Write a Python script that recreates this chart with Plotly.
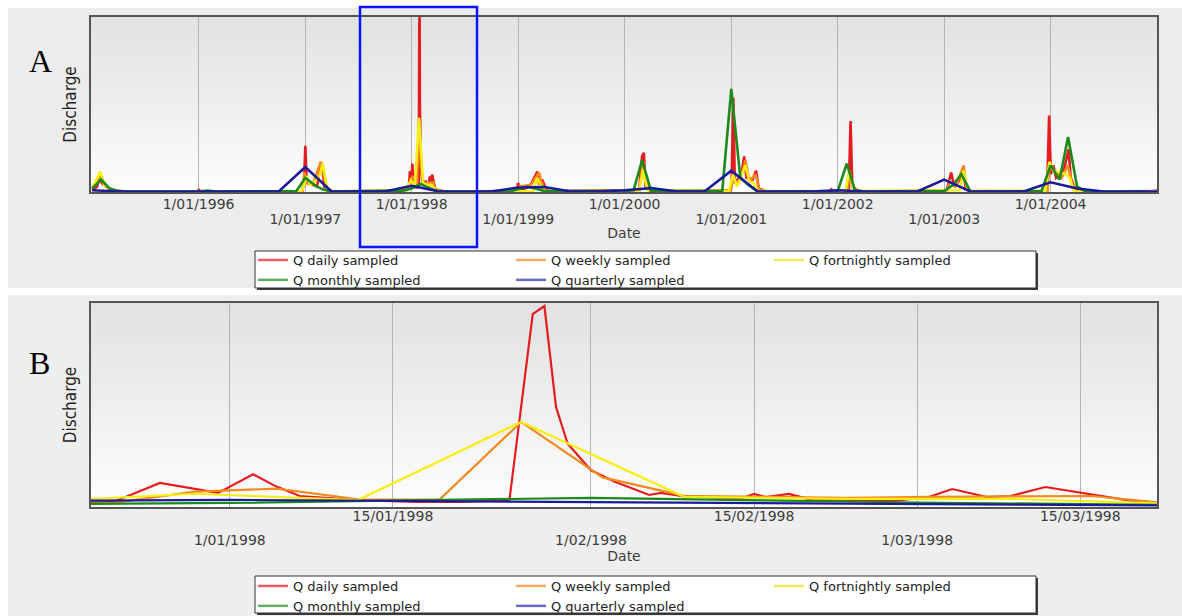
import plotly.graph_objects as go

# ---------------------------------------------------------------- data
daily_dates = [
    "1995-01-01", "1995-01-18", "1995-01-27", "1995-02-03", "1995-02-18", "1995-03-15", "1995-05-01",
    "1995-12-26", "1996-01-02", "1996-01-08", "1996-11-01",
    "1996-12-22", "1996-12-28", "1997-01-01", "1997-01-05", "1997-01-15", "1997-02-10", "1997-02-24",
    "1997-03-01", "1997-03-07", "1997-04-01", "1997-10-01", "1997-12-01",
    "1997-12-20", "1997-12-22", "1997-12-26", "1997-12-31", "1998-01-03", "1998-01-05", "1998-01-07",
    "1998-01-12", "1998-01-17", "1998-01-21", "1998-01-25", "1998-01-27", "1998-01-28", "1998-01-29",
    "1998-01-30", "1998-02-01", "1998-02-03", "1998-02-05", "1998-02-06", "1998-02-07", "1998-02-09",
    "1998-02-14", "1998-02-15", "1998-02-16", "1998-02-18", "1998-02-20", "1998-02-27", "1998-03-02",
    "1998-03-04", "1998-03-07", "1998-03-09", "1998-03-12", "1998-03-15", "1998-03-19", "1998-03-22",
    "1998-04-05", "1998-05-01",
    "1998-12-26", "1999-01-01", "1999-01-06", "1999-02-10", "1999-03-08", "1999-03-14", "1999-03-24",
    "1999-04-10",
    "2000-02-20", "2000-03-01", "2000-03-07", "2000-03-13", "2000-04-01",
    "2000-12-28", "2001-01-02", "2001-01-08", "2001-01-13", "2001-02-05", "2001-02-14", "2001-02-22",
    "2001-03-15", "2001-03-27", "2001-04-05", "2001-04-30",
    "2001-12-05", "2001-12-10", "2001-12-20", "2002-02-08", "2002-02-14", "2002-02-20", "2002-03-10",
    "2002-04-01",
    "2003-01-10", "2003-01-25", "2003-02-05", "2003-03-01", "2003-03-08", "2003-03-15", "2003-04-01",
    "2003-12-20", "2003-12-27", "2004-01-02", "2004-01-10", "2004-01-20", "2004-02-15", "2004-03-03",
    "2004-03-10", "2004-03-25", "2004-04-15",
    "2004-12-20", "2004-12-31",
]
daily_q = [
    1.0, 3.0, 10.0, 5.0, 3.0, 1.0, 0.2,
    0.2, 1.2, 0.2, 0.2,
    0.5, 6.0, 26.0, 8.0, 5.0, 3.0, 16.0,
    14.0, 3.0, 0.5, 0.3, 1.0,
    2.0, 2.5, 11.8, 6.9, 16.0, 10.0, 5.4,
    3.4, 2.5, 2.5, 3.4, 94.6, 98.5, 49.0,
    31.0, 18.0, 12.5, 8.3, 5.9, 6.9, 5.2,
    4.4, 6.4, 4.9, 6.4, 3.4, 3.0, 4.9,
    8.8, 4.9, 5.4, 9.8, 6.9, 3.4, 2.0,
    0.8, 0.3,
    0.5, 5.0, 1.0, 3.0, 11.5, 4.0, 7.0,
    0.5,
    1.0, 20.0, 22.0, 3.0, 0.5,
    1.0, 4.0, 53.0, 5.0, 10.0, 20.0, 8.0,
    7.0, 12.0, 2.0, 0.3,
    0.3, 1.5, 0.3, 1.0, 40.0, 3.0, 1.0,
    0.2,
    1.0, 11.0, 3.0, 8.0, 14.0, 3.0, 0.3,
    0.5, 43.0, 10.0, 15.0, 8.0, 12.0, 24.0,
    8.0, 2.0, 0.3,
    0.2, 0.6,
]

weekly_dates = [
    "1995-01-01", "1995-01-29", "1995-02-12", "1995-03-05", "1995-04-02",
    "1996-12-22", "1996-12-29", "1997-01-05", "1997-01-26", "1997-02-23", "1997-03-02", "1997-03-16",
    "1997-04-06",
    "1997-12-15", "1997-12-22", "1997-12-29", "1998-01-05", "1998-01-12", "1998-01-19", "1998-01-26",
    "1998-02-02", "1998-02-09", "1998-02-16", "1998-02-23", "1998-03-02", "1998-03-09", "1998-03-16",
    "1998-03-23", "1998-04-20",
    "1998-12-27", "1999-01-03", "1999-02-14", "1999-03-14", "1999-03-21", "1999-04-04", "1999-04-25",
    "2000-02-20", "2000-03-05", "2000-03-12", "2000-03-26",
    "2000-12-31", "2001-01-07", "2001-01-21", "2001-02-11", "2001-02-18", "2001-03-04", "2001-03-25",
    "2001-04-08", "2001-04-29",
    "2002-02-03", "2002-02-10", "2002-02-24", "2002-03-17",
    "2003-01-12", "2003-01-19", "2003-02-09", "2003-03-09", "2003-03-16", "2003-03-30",
    "2003-12-21", "2003-12-28", "2004-01-11", "2004-02-08", "2004-02-29", "2004-03-14", "2004-04-04",
    "2004-12-19", "2005-01-02",
]
weekly_q = [
    2.0, 9.0, 4.0, 1.0, 0.2,
    0.5, 11.0, 5.0, 4.0, 17.0, 12.0, 2.0,
    0.3,
    1.0, 2.0, 7.5, 9.0, 3.8, 3.6, 41.7,
    14.5, 5.5, 5.0, 4.5, 5.0, 5.2, 5.4,
    1.5, 0.3,
    0.5, 3.0, 4.0, 11.0, 6.0, 1.0, 0.2,
    1.0, 17.0, 6.0, 0.5,
    1.0, 8.0, 4.0, 12.0, 18.0, 6.0, 10.0,
    1.0, 0.2,
    0.5, 10.0, 2.0, 0.3,
    0.5, 6.0, 3.0, 15.0, 5.0, 0.5,
    0.5, 14.0, 12.0, 8.0, 15.0, 5.0, 0.5,
    0.3, 1.2,
]

fortnightly_dates = [
    "1995-01-01", "1995-01-29", "1995-02-12", "1995-03-12", "1995-04-09",
    "1996-12-08", "1996-12-22", "1997-01-05", "1997-01-19", "1997-02-16", "1997-03-02", "1997-03-16",
    "1997-03-30",
    "1997-12-01", "1997-12-15", "1997-12-29", "1998-01-12", "1998-01-26", "1998-02-09", "1998-02-23",
    "1998-03-09", "1998-03-23", "1998-04-06",
    "1999-02-21", "1999-03-07", "1999-03-21", "1999-04-04",
    "2000-02-20", "2000-03-05", "2000-03-19",
    "2000-12-24", "2001-01-07", "2001-01-21", "2001-02-18", "2001-03-04", "2001-03-18", "2001-04-01",
    "2002-01-27", "2002-02-10", "2002-02-24",
    "2003-02-23", "2003-03-09", "2003-03-23",
    "2003-12-14", "2003-12-28", "2004-01-11", "2004-02-22", "2004-03-07", "2004-03-21",
    "2004-12-26",
]
fortnightly_q = [
    2.0, 11.5, 4.0, 1.0, 0.2,
    0.3, 1.0, 9.0, 4.0, 8.0, 16.0, 3.0,
    0.5,
    0.5, 2.5, 6.5, 3.4, 41.7, 5.0, 4.0,
    4.0, 1.5, 0.3,
    0.5, 8.0, 3.0, 0.3,
    0.5, 13.0, 1.0,
    0.5, 10.0, 3.0, 15.0, 6.0, 5.0, 0.5,
    0.5, 12.0, 0.5,
    1.0, 12.0, 0.5,
    0.5, 17.0, 12.0, 10.0, 8.0, 0.3,
    0.3,
]

monthly_dates = [
    "1995-01-01", "1995-02-01", "1995-03-01", "1995-04-01", "1995-05-01",
    "1996-01-01", "1996-02-01", "1996-03-01",
    "1996-12-01", "1997-01-01", "1997-02-01", "1997-03-01", "1997-04-01",
    "1997-12-01", "1998-01-01", "1998-02-01", "1998-03-01", "1998-04-01", "1998-05-01",
    "1998-12-01", "1999-01-01", "1999-02-01", "1999-03-01", "1999-04-01",
    "2000-01-01", "2000-02-01", "2000-03-01", "2000-04-01",
    "2000-12-01", "2001-01-01", "2001-02-01", "2001-03-01", "2001-04-01",
    "2002-01-01", "2002-02-01", "2002-03-01", "2002-04-01",
    "2003-01-01", "2003-02-01", "2003-03-01", "2003-04-01",
    "2003-12-01", "2004-01-01", "2004-02-01", "2004-03-01", "2004-04-01", "2004-05-01",
    "2004-12-01",
]
monthly_q = [
    2.0, 7.0, 2.0, 0.5, 0.2,
    0.3, 0.8, 0.2,
    0.5, 8.0, 4.0, 1.5, 0.2,
    0.8, 2.0, 4.5, 2.2, 0.5, 0.2,
    0.3, 1.5, 3.0, 2.0, 0.5,
    0.5, 1.0, 18.0, 0.5,
    0.5, 58.0, 8.0, 4.0, 0.3,
    0.5, 16.0, 1.0, 0.2,
    0.5, 4.0, 10.0, 0.3,
    0.5, 15.0, 7.0, 31.0, 3.0, 0.3,
    0.2,
]

quarterly_dates = [
    "1995-01-01", "1995-04-01", "1995-07-01", "1995-10-01",
    "1996-01-01", "1996-04-01", "1996-07-01", "1996-10-01",
    "1997-01-01", "1997-04-01", "1997-07-01", "1997-10-01",
    "1998-01-01", "1998-04-01", "1998-07-01", "1998-10-01",
    "1999-01-01", "1999-04-01", "1999-07-01", "1999-10-01",
    "2000-01-01", "2000-04-01", "2000-07-01", "2000-10-01",
    "2001-01-01", "2001-04-01", "2001-07-01", "2001-10-01",
    "2002-01-01", "2002-04-01", "2002-07-01", "2002-10-01",
    "2003-01-01", "2003-04-01", "2003-07-01", "2003-10-01",
    "2004-01-01", "2004-04-01", "2004-07-01", "2004-10-01",
    "2005-01-01",
]
quarterly_q = [
    1.0, 0.3, 0.2, 0.2,
    0.3, 0.2, 0.2, 0.2,
    14.0, 0.3, 0.2, 0.3,
    3.5, 0.4, 0.2, 0.3,
    2.5, 2.8, 0.3, 0.3,
    1.0, 2.2, 0.3, 0.3,
    12.0, 0.3, 0.2, 0.3,
    1.0, 0.3, 0.2, 0.3,
    7.0, 0.3, 0.2, 0.3,
    5.5, 2.0, 0.2, 0.2,
    0.2,
]

series_names = ["Q daily sampled", "Q weekly sampled", "Q fortnightly sampled",
                "Q monthly sampled", "Q quarterly sampled"]

a_range = ["1994-12-28", "2004-12-31"]
a_upper_vals = ["1996-01-01", "1998-01-01", "2000-01-01", "2002-01-01", "2004-01-01"]
a_upper_text = ["1/01/1996", "1/01/1998", "1/01/2000", "1/01/2002", "1/01/2004"]
a_lower_vals = ["1997-01-01", "1999-01-01", "2001-01-01", "2003-01-01"]
a_lower_text = ["1/01/1997", "1/01/1999", "1/01/2001", "1/01/2003"]

b_range = ["1997-12-20 02:00", "1998-03-21 14:00"]
b_upper_vals = ["1998-01-15", "1998-02-15", "1998-03-15"]
b_upper_text = ["15/01/1998", "15/02/1998", "15/03/1998"]
b_lower_vals = ["1998-01-01", "1998-02-01", "1998-03-01"]
b_lower_text = ["1/01/1998", "1/02/1998", "1/03/1998"]

# ---------------------------------------------------------------- styling
W, H = 1182, 616
line_cols = ["#e51b20", "#f28a1e", "#f7ee16", "#1b8a1b", "#1a1a9a"]
pale_cols = ["#ec5a63", "#f4ab62", "#eeea5a", "#5fae5f", "#6b6bc8"]
groups = ["c1", "c2", "c3", "c1", "c2"]

xs_all = [daily_dates, weekly_dates, fortnightly_dates, monthly_dates, quarterly_dates]
ys_all = [daily_q, weekly_q, fortnightly_q, monthly_q, quarterly_q]


def px(x):
    return x / W


def py(y):
    return 1 - y / H


PL, PR = 91, 1157
A_T, A_B = 17, 192
B_T, B_B = 303, 507

fig = go.Figure()

for i in range(5):
    fig.add_trace(go.Scatter(x=xs_all[i], y=ys_all[i], mode="lines",
                             line=dict(color=line_cols[i], width=2.6),
                             xaxis="x", yaxis="y", showlegend=False,
                             hoverinfo="skip"))
for i in range(5):
    fig.add_trace(go.Scatter(x=xs_all[i], y=ys_all[i], mode="lines",
                             line=dict(color=line_cols[i], width=2.2),
                             xaxis="x2", yaxis="y2", showlegend=False,
                             hoverinfo="skip"))
fig.add_trace(go.Scatter(x=[None], y=[None], xaxis="x3", yaxis="y",
                         showlegend=False, hoverinfo="skip"))
fig.add_trace(go.Scatter(x=[None], y=[None], xaxis="x4", yaxis="y2",
                         showlegend=False, hoverinfo="skip"))
for leg, xa, ya, tag in [("legend", "x", "y", "A"), ("legend2", "x2", "y2", "B")]:
    for i in range(5):
        fig.add_trace(go.Scatter(x=[None], y=[None], mode="lines", name=series_names[i],
                                 line=dict(color=pale_cols[i], width=2.5),
                                 xaxis=xa, yaxis=ya, legend=leg,
                                 legendgroup=tag + groups[i], showlegend=True))

tick_font = dict(family="DejaVu Sans", size=14, color="#3c3c3c")
title_font = dict(family="DejaVu Sans", size=14, color="#3c3c3c")
disc_font = dict(family="Liberation Sans Narrow, DejaVu Sans Condensed, Liberation Sans",
                 size=17, color="#222222")
frame = dict(showline=True, linecolor="#555555", linewidth=2, mirror=True)
grid = dict(showgrid=True, gridcolor="#b4b4b4", gridwidth=1)
leg_font = dict(family="DejaVu Sans", size=13, color="#222222")

xdom = [px(PL), px(PR)]

layout = dict(
    width=W, height=H, autosize=False,
    margin=dict(l=0, r=0, t=0, b=0, autoexpand=False),
    paper_bgcolor="#ffffff",
    plot_bgcolor="rgba(0,0,0,0)",
    template="none",
    xaxis=dict(domain=xdom, anchor="y", type="date", range=a_range,
               tickmode="array", tickvals=a_upper_vals, ticktext=a_upper_text,
               ticks="", tickfont=tick_font, ticklabelstandoff=-2,
               zeroline=False, automargin=False, **frame, **grid),
    xaxis3=dict(overlaying="x", anchor="y", type="date", range=a_range,
                tickmode="array", tickvals=a_lower_vals, ticktext=a_lower_text,
                ticks="", tickfont=tick_font, ticklabelstandoff=17,
                showline=False, zeroline=False, automargin=False, **grid,
                title=dict(text="Date", font=title_font, standoff=2)),
    yaxis=dict(domain=[py(A_B), py(A_T)], anchor="x", range=[0, 98.5],
               showticklabels=False, ticks="", showgrid=False, zeroline=False,
               automargin=False, **frame,
               title=dict(text="Discharge", font=disc_font, standoff=8)),
    xaxis2=dict(domain=xdom, anchor="y2", type="date", range=b_range,
                tickmode="array", tickvals=b_upper_vals, ticktext=b_upper_text,
                ticks="", tickfont=tick_font, ticklabelstandoff=-5,
                zeroline=False, automargin=False, **frame, **grid),
    xaxis4=dict(overlaying="x2", anchor="y2", type="date", range=b_range,
                tickmode="array", tickvals=b_lower_vals, ticktext=b_lower_text,
                ticks="", tickfont=tick_font, ticklabelstandoff=23,
                showline=False, zeroline=False, automargin=False, **grid,
                title=dict(text="Date", font=title_font, standoff=3)),
    yaxis2=dict(domain=[py(B_B), py(B_T)], anchor="x2", range=[0, 100],
                showticklabels=False, ticks="", showgrid=False, zeroline=False,
                automargin=False, **frame,
                title=dict(text="Discharge", font=disc_font, standoff=8)),
    legend=dict(x=px(253), y=py(245), xanchor="left", yanchor="top",
                orientation="h", traceorder="grouped", tracegroupgap=0,
                entrywidth=213, itemwidth=30,
                bgcolor="rgba(0,0,0,0)", borderwidth=0, font=leg_font,
                itemclick=False, itemdoubleclick=False),
    legend2=dict(x=px(253), y=py(571), xanchor="left", yanchor="top",
                 orientation="h", traceorder="grouped", tracegroupgap=0,
                 entrywidth=213, itemwidth=30,
                 bgcolor="rgba(0,0,0,0)", borderwidth=0, font=leg_font,
                 itemclick=False, itemdoubleclick=False),
    showlegend=True,
)
fig.update_layout(**layout)

shapes = []
shapes.append(dict(type="rect", xref="paper", yref="paper", x0=px(8), x1=1,
                   y0=py(288), y1=py(8), fillcolor="#ececec", line=dict(width=0),
                   layer="below"))
shapes.append(dict(type="rect", xref="paper", yref="paper", x0=px(8), x1=1,
                   y0=0, y1=py(295), fillcolor="#eeeeee", line=dict(width=0),
                   layer="below"))
N = 30
for xr, yr in [("x domain", "y domain"), ("x2 domain", "y2 domain")]:
    for k in range(N):
        t = k / (N - 1)
        g = int(round(255 - 29 * t ** 0.8))
        shapes.append(dict(type="rect", xref=xr, yref=yr, x0=0, x1=1,
                           y0=k / N, y1=(k + 1) / N + 0.002,
                           fillcolor=f"rgb({g},{g},{g})", line=dict(width=0),
                           layer="below"))
for top, bot in [(251, 288), (576, 613)]:
    shapes.append(dict(type="rect", xref="paper", yref="paper",
                       x0=px(257), x1=px(1038), y0=py(bot + 2), y1=py(top + 2),
                       fillcolor="#3a3a3a", line=dict(width=0), layer="below"))
    shapes.append(dict(type="rect", xref="paper", yref="paper",
                       x0=px(255), x1=px(1036), y0=py(bot), y1=py(top),
                       fillcolor="#ffffff", line=dict(color="#333333", width=1),
                       layer="below"))
shapes.append(dict(type="rect", xref="paper", yref="paper", x0=px(360), x1=px(477),
                   y0=py(247), y1=py(7), line=dict(color="#0a14ff", width=2.5),
                   fillcolor="rgba(0,0,0,0)", layer="above"))
fig.update_layout(shapes=shapes)

fig.add_annotation(text="A", xref="paper", yref="paper", x=px(40), y=py(61),
                   showarrow=False, xanchor="center", yanchor="middle",
                   font=dict(family="Liberation Serif", size=32, color="#000000"))
fig.add_annotation(text="B", xref="paper", yref="paper", x=px(39), y=py(363),
                   showarrow=False, xanchor="center", yanchor="middle",
                   font=dict(family="Liberation Serif", size=32, color="#000000"))

post = (
    "var d=document,h=d.documentElement,b=d.body;"
    "h.style.margin='0';h.style.padding='0';h.style.overflow='hidden';"
    "b.style.margin='0';b.style.padding='0';b.style.overflow='hidden';"
)
fig.write_html("out.html", config={"displayModeBar": False}, post_script=post)
